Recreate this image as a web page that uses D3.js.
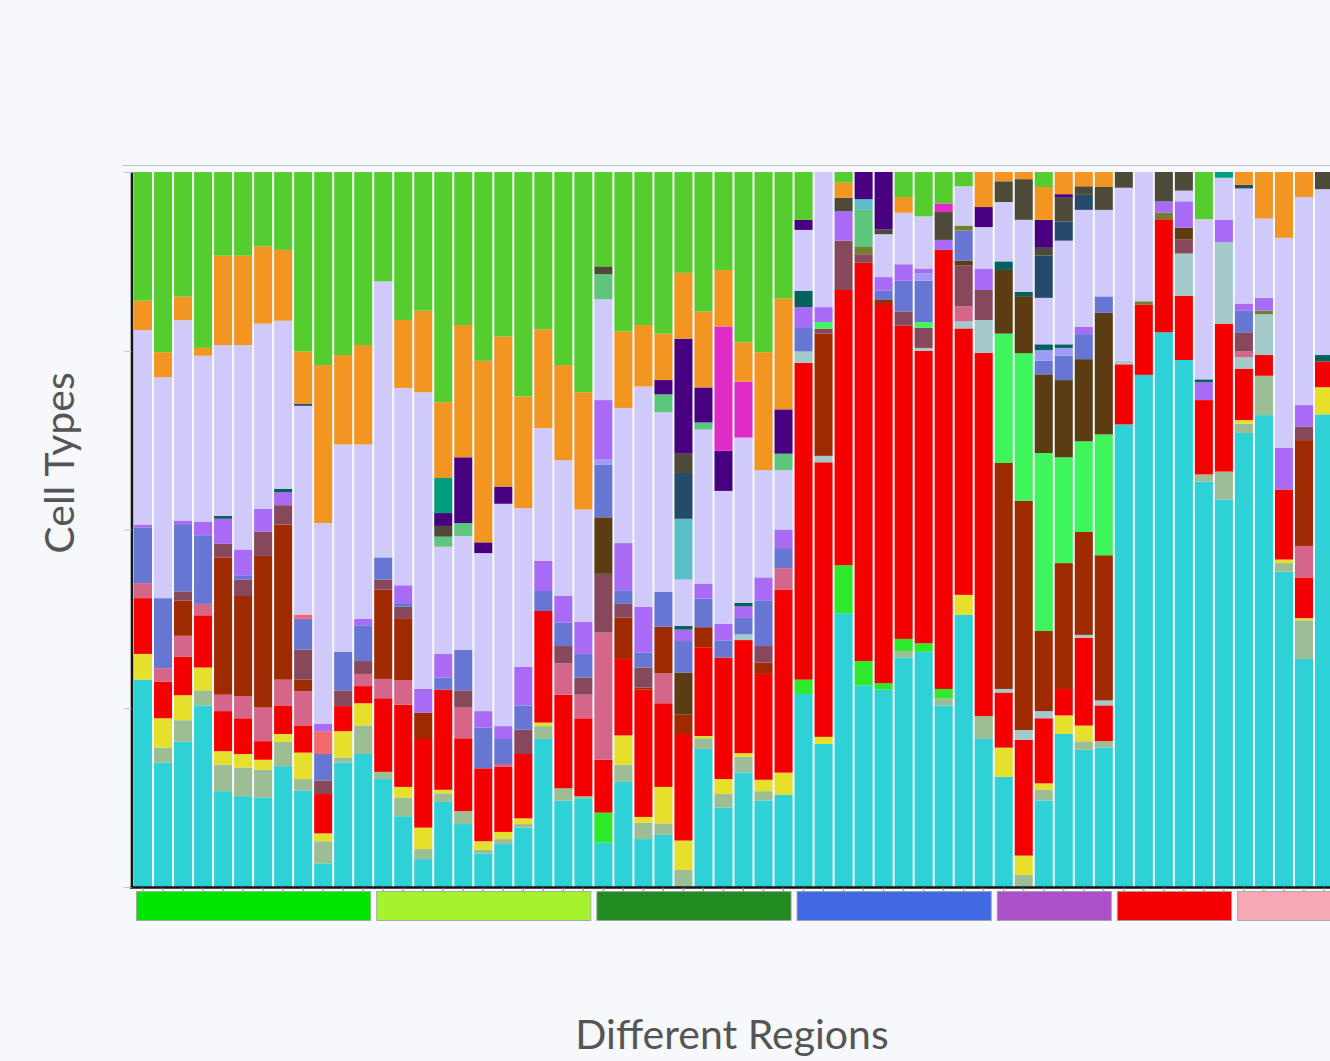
<!DOCTYPE html>
<html>
<head>
<meta charset="utf-8">
<script src="https://cdn.jsdelivr.net/npm/d3@7"></script>
<style>
  html, body { margin: 0; padding: 0; background: #f6f8fc; }
  svg { display: block; font-family: Lato, "Open Sans", sans-serif; }
</style>
</head>
<body>
<svg></svg>
<script>
// cell type proportions per region (%), one array per cell type, 60 regions
var cyan = [29.0,17.4,20.3,25.4,13.4,12.7,12.5,16.9,13.5,3.3,
  17.4,18.6,15.1,9.9,3.9,11.9,8.8,4.7,6.0,8.3,
  20.7,12.1,12.4,6.2,14.7,6.7,7.3,0,19.3,11.1,
  16.0,12.1,12.9,27.0,20.0,38.3,28.2,27.6,32.1,32.9,
  25.4,38.1,20.7,15.4,0,12.1,21.4,19.2,19.5,64.7,
  71.7,77.5,73.7,56.7,54.2,63.5,66.0,44.1,31.9,66.1];
var sage = [0,2.1,3.0,2.1,3.7,4.0,3.9,3.4,1.6,3.1,
  0.7,4.0,1.0,2.6,1.4,1.2,1.8,0.5,0.7,0.5,
  1.8,1.7,0.3,0,2.4,2.3,1.6,2.4,1.5,1.9,
  2.2,1.3,0,0,0,0,0,0,0.9,0,
  1.0,0,3.2,0,1.7,1.5,0,1.2,0.9,0,
  0,0,0,1.0,3.9,1.3,5.5,1.2,5.4,0];
var yellow = [3.6,4.1,3.5,3.2,1.9,1.9,1.4,1.1,3.7,1.1,
  3.7,3.1,0,1.5,3.0,0.5,0,1.2,1.0,0.8,
  0.5,0,0,0,4.1,0.8,5.1,4.1,0.3,2.1,
  0.5,1.6,3.1,0,1.0,0,0,0,0,0,
  0,2.8,0,4.1,2.7,0.9,2.6,2.2,0,0,
  0,0,0,0,0,0.5,0,0.5,0.3,3.8];
var lime = [0,0,0,0,0,0,0,0,0,0,
  0,0,0,0,0,0,0,0,0,0,
  0,0,0,4.2,0,0,0,0,0,0,
  0,0,0,2.0,0,6.7,3.4,0.9,1.7,1.2,
  1.3,0,0,0,0,0,0,0,0,0,
  0,0,0,0,0,0,0,0,0,0];
var red = [7.8,5.1,5.4,7.3,5.6,5.0,2.6,4.0,3.8,5.5,
  3.5,2.4,10.3,11.5,12.4,14.0,10.2,10.2,9.1,9.0,
  15.6,13.1,10.9,7.4,10.7,17.8,11.7,14.9,12.4,17.0,
  15.8,14.8,25.6,44.3,38.4,38.5,55.7,52.9,43.8,40.9,
  61.4,37.3,50.8,7.7,16.2,9.1,3.7,12.3,5.0,8.4,
  9.8,15.8,9.0,10.4,20.7,7.2,2.9,9.8,5.7,3.6];
var greyCyan = [0,0,0,0,0,0,0,0,0,0,
  0,0,0,0,0,0,0,0,0,0,
  0,0,0,0,0,0,0,0,0,0,
  0.8,0,0,1.6,0.9,0,0,0,0,0.4,
  0,1.0,4.6,0.5,1.4,1.0,0,0.4,0.7,0.5,
  0,0,5.9,0,11.4,1.6,5.7,0,0,0];
var pink = [2.1,1.9,2.9,1.6,2.3,3.1,4.7,3.6,4.8,0,
  0,1.7,2.7,3.4,0,0,4.3,0,0.4,0,
  0,4.4,3.3,17.8,0,0,4.2,0,0,0,
  0,0,3.0,0,0,0,0,0,0,0,
  0,2.1,0,0,0,0,0,0,0,0,
  0,0,0,0,0,0.8,0,0,4.4,0];
var brownRed = [0,0,4.9,0,19.2,14.0,21.2,21.7,1.6,0,
  0,0,12.5,8.7,3.7,0,0,0,0,0,
  0,0,0,0,5.8,0.3,6.5,2.7,2.8,0,
  0,1.6,0,0,17.1,0,0,0.7,0,0,
  0,0,0,31.6,32.1,11.2,17.6,14.4,20.3,0,
  0,0,0,0,0,0,0,0,14.8,0];
var maroon = [0,0,1.3,0,1.9,2.3,3.4,2.7,4.2,1.9,
  2.2,1.8,1.4,1.6,0,0,2.4,0,0,3.4,
  0,2.4,2.4,8.2,1.9,2.8,0,0,0,0,
  0,2.3,0,0,0.7,6.9,1.2,0,2.0,2.8,
  0,5.7,4.2,0,0,0,0,0,0,0,
  0,0,2.0,0,0,2.6,0,0,1.9,0];
var brightGreen = [0,0,0,0,0,0,0,0,0,0,
  0,0,0,0,0,0,0,0,0,0,
  0,0,0,0,0,0,0,0,0,0,
  0,0,0,0,0.9,0,0,0,0,0.8,
  0,0,0,18.1,20.7,24.9,14.8,12.7,16.9,0,
  0,0,0,0,0,0,0,0,0,0];
var darkBrown = [0,0,0,0,0,0,0,0,0,0,
  0,0,0,0,0,0,0,0,0,0,
  0,0,0,7.9,0,0,0,5.9,0,0,
  0,0,0,0,0,0,0,0,0,0,
  0,0.7,0,8.9,8.0,11.0,10.8,11.5,17.0,0,
  0,0,1.6,0,0,0,0,0,0,0];
var blue = [7.8,9.8,9.4,9.6,0,0.6,0,0,4.3,3.7,
  5.4,5.0,3.1,0.5,0,1.7,5.7,5.7,3.5,3.4,
  2.8,3.3,3.3,7.4,1.9,2.1,4.9,4.4,4.0,2.4,
  2.3,6.4,2.8,3.4,0,0,0,1.3,4.3,5.8,
  0,4.2,0,0,0,1.9,3.4,3.5,2.3,0,
  0,0,0,0,0,3.1,0,0,0,0];
var salmon = [0,0,0,0,0,0,0,0,0.6,3.2,
  0,0,0,0,0,0,0,0,0,0,
  0,0,0,0,0,0,0,0,0,0,
  0,0,0,0,0,0,0,0,0,0,
  0,0,0,0,0,0,0,0,0,0,
  0,0,0,0,0,0,0,0,0,0];
var olive = [0,0,0,0,0,0,0,0,0,0,
  0,0,0,0,0,0,0,0,0,0,
  0,0,0,0,0,0,0,0,0,0,
  0,0,0,0,0,0,1.1,0,0,0,
  0,0.7,0,0,0,0,0,0,0,0,
  0.5,0.9,0,0,0,0,0.5,0,0,0];
var periwinkle = [0,0,0,0,0,0,0,0,0,0,
  0,0,0,0,0,0,0,0,0,0,
  0,0,0,0.7,0,0,0,0,0,0,
  0,0,0,0,0,0,0,0,0,1.0,
  0,0,0,0,0,1.5,1.1,0,0,0,
  0,0,0,0,0,0,0,0,0,0];
var purple = [0.4,0,0.5,1.9,3.5,3.6,3.2,1.8,0,1.0,
  0,0.9,0,2.5,3.3,3.3,0,2.3,1.8,5.4,
  4.2,3.7,4.5,8.3,6.6,6.4,0,1.6,2.1,2.3,
  1.6,3.2,2.6,2.8,2.1,4.1,0,1.9,2.3,0.7,
  1.4,0,3.0,0,0,0,0,1.0,0,0,
  0,1.6,3.7,2.5,3.1,1.0,1.8,5.8,3.0,0];
var darkTeal = [0,0,0,0,0.4,0,0,0.5,0,0,
  0,0,0,0,0,0,0,0,0,0,
  0,0,0,0,0,0,0,0.5,0,0,
  0.5,0,0,2.3,0,0,0,0,0,0,
  0,0,0,1.2,0.6,0.8,0.5,0,0,0,
  0,0,0,0.4,0,0,0,0,0,0.9];
var lavender = [27.2,30.9,28.0,23.2,23.9,28.6,25.9,23.5,29.2,28.1,
  29.0,24.4,38.6,27.6,41.5,15.0,15.9,22.1,31.1,22.2,
  18.6,19.0,15.7,14.1,18.9,30.8,25.1,6.5,21.5,18.6,
  23.1,15.0,8.3,8.5,18.9,0,0,6.0,7.2,7.3,
  0,5.5,5.8,8.3,10.1,6.5,14.5,16.4,12.1,24.2,
  18.1,0,1.5,22.4,5.9,16.1,11.1,29.4,29.1,23.2];
var medGreen = [0,0,0,0,0,0,0,0,0,0,
  0,0,0,0,0,1.4,1.8,0,0,0,
  0,0,0,3.5,0,0,2.5,0,1.0,0,
  0,0,2.3,0,0,0,5.1,0,0,0,
  0,0,0,0,0,0,0,0,0,0,
  0,0,0,0,0,0,0,0,0,0];
var lightTeal = [0,0,0,0,0,0,0,0,0,0,
  0,0,0,0,0,0,0,0,0,0,
  0,0,0,0,0,0,0,8.5,0,0,
  0,0,0,0,0,0,1.5,0,0,0,
  0,0,0,0,0,0,0,0,0,0,
  0,0,0,0,0,0,0,0,0,0];
var navy = [0,0,0,0,0,0,0,0,0.3,0,
  0,0,0,0,0,0,0,0,0,0,
  0,0,0,0,0,0,0,6.4,0,0,
  0,0,0,0,0,0,0,0,0,0,
  0,0,0,0,0,5.9,2.7,2.1,0,0,
  0,0,0,0,0,0.5,0,0,0,0];
var darkOlive = [0,0,0,0,0,0,0,0,0,0,
  0,0,0,0,0,1.5,0,0,0,0,
  0,0,0,1.1,0,0,0,2.7,0,0,
  0,0,0,0,0,1.9,0,0.7,0,0,
  3.9,0,0,2.9,5.7,1.1,3.3,1.2,3.2,2.2,
  0,4.1,2.6,0,0,0,0,0,0,2.4];
var indigo = [0,0,0,0,0,0,0,0,0,0,
  0,0,0,0,0,1.8,9.2,1.5,2.4,0,
  0,0,0,0,0,0,2.0,16.1,4.9,5.6,
  0,0,6.2,1.4,0,0,3.8,8.0,0,0,
  0,0,2.8,0,0,3.9,0.5,0,0,0,
  0,0,0,0,0,0,0,0,0,0];
var magenta = [0,0,0,0,0,0,0,0,0,0,
  0,0,0,0,0,0,0,0,0,0,
  0,0,0,0,0,0,0,0,0,17.4,
  7.8,0,0,0,0,0,0,0,0,0,
  1.2,0,0,0,0,0,0,0,0,0,
  0,0,0,0,0,0,0,0,0,0];
var teal = [0,0,0,0,0,0,0,0,0,0,
  0,0,0,0,0,4.9,0,0,0,0,
  0,0,0,0,0,0,0,0,0,0,
  0,0,0,0,0,0,0,0,0,0,
  0,0,0,0,0,0,0,0,0,0,
  0,0,0,0,0.8,0,0,0,0,0];
var orange = [4.1,3.5,3.3,1.1,12.5,12.5,10.8,9.9,7.3,22.1,
  12.5,13.9,0,9.5,11.4,10.6,18.5,25.4,21.0,15.6,
  13.8,13.3,16.4,0,10.7,8.6,6.5,9.2,10.6,7.9,
  5.5,16.5,15.5,0,0,2.1,0,0,2.2,0,
  0,0,4.9,1.3,1.0,4.6,3.1,2.0,2.1,0,
  0,0,0,0,0,1.8,6.5,9.2,3.5,0];
var green = [18.0,25.2,17.4,24.6,11.7,11.7,10.4,10.9,25.1,27.0,
  25.6,24.2,15.3,20.7,19.4,32.2,21.4,26.4,23.0,31.4,
  22.0,27.0,30.8,13.2,22.3,21.4,22.6,14.1,19.5,13.7,
  23.8,25.2,17.7,6.7,0,1.5,0,0,3.5,6.2,
  4.4,2.0,0,0,0,2.1,0,0,0,0,
  0,0,0,6.6,0,0,0,0,0,0];

// stack order, bottom to top
var cellTypes = ["cyan","sage","yellow","lime","red","greyCyan","pink","brownRed","maroon",
  "brightGreen","darkBrown","blue","salmon","olive","periwinkle","purple","darkTeal","lavender",
  "medGreen","lightTeal","navy","darkOlive","indigo","magenta","teal","orange","green"];
var cellSeries = [cyan,sage,yellow,lime,red,greyCyan,pink,brownRed,maroon,
  brightGreen,darkBrown,blue,salmon,olive,periwinkle,purple,darkTeal,lavender,
  medGreen,lightTeal,navy,darkOlive,indigo,magenta,teal,orange,green];
var cellColors = ["#2ed1d6","#9dbe95","#e6e02c","#2eea2a","#f50000","#a3c9cb","#d6658a","#a02a00","#87485c",
  "#3ef55c","#5b3c13","#6676d2","#f26a6e","#72802e","#9f9cf7","#a96bf6","#00615f","#cfcafa",
  "#5ec57c","#5cbec8","#264a6a","#4d4a3a","#47007f","#e02bc7","#009e7c","#f29521","#55cd2e"];

// region groups shown in the colour strip under the bars
var groupSizes = [12, 11, 10, 10, 6, 6, 5];
var groupColors = ["#00e600","#a6f22f","#228b22","#4169e1","#ab50c8","#f50000","#f6a8b4"];

(function (d3) {
  'use strict';

  var width = 1330, height = 1061,
      left = 132, top = 172, bottom = 887,
      svg = d3.select("svg").attr("width", width).attr("height", height);

  var nRegions = cyan.length;
  var regions = d3.range(nRegions);

  var rows = regions.map(function (i) {
    var row = { region: i };
    cellTypes.forEach(function (t, k) { row[t] = cellSeries[k][i]; });
    return row;
  });

  var x = d3.scaleBand()
      .domain(regions)
      .range([left, left + 20.05 * 60])
      .paddingInner(0.1)
      .paddingOuter(0.1);

  var y = d3.scaleLinear()
      .domain([0, 1])
      .range([bottom, top]);

  var color = d3.scaleOrdinal().domain(cellTypes).range(cellColors);

  var series = d3.stack()
      .keys(cellTypes)
      .offset(d3.stackOffsetExpand)(rows);

  // frame line along the top
  svg.append("line")
      .attr("x1", 122).attr("x2", width)
      .attr("y1", 165.5).attr("y2", 165.5)
      .attr("stroke", "#bfc3c8").attr("stroke-width", 1);

  svg.append("g")
    .selectAll("g")
    .data(series)
    .enter().append("g")
      .attr("fill", function (d) { return color(d.key); })
    .selectAll("rect")
    .data(function (d) { return d.filter(function (s) { return s[1] - s[0] > 0; }); })
    .enter().append("rect")
      .attr("x", function (d) { return x(d.data.region); })
      .attr("width", x.bandwidth())
      .attr("y", function (d) { return y(d[1]); })
      .attr("height", function (d) { return y(d[0]) - y(d[1]); });

  // colour strip for region groups
  var groups = [], start = 0;
  groupSizes.forEach(function (n, g) {
    groups.push({ first: start, last: start + n - 1, color: groupColors[g] });
    start += n;
  });

  svg.append("g")
    .selectAll("rect")
    .data(groups)
    .enter().append("rect")
      .attr("x", function (d) { return x(d.first) + 2.5; })
      .attr("width", function (d) { return x(Math.min(d.last, nRegions - 1)) + x.bandwidth() - x(d.first) - 4; })
      .attr("y", 891.5)
      .attr("height", 29)
      .attr("fill", function (d) { return d.color; })
      .attr("stroke", "#a0a0a0")
      .attr("stroke-width", 0.8);

  // axes
  var xAxis = svg.append("g")
      .attr("transform", "translate(0," + (bottom + 0.5) + ")")
      .call(d3.axisBottom(x).tickSize(3.5).tickSizeOuter(0).tickFormat(""));
  xAxis.select(".domain").attr("stroke", "#151515").attr("stroke-width", 2.6)
      .attr("d", "M" + (left - 2) + ",0H" + width);
  xAxis.selectAll(".tick line").attr("stroke", "#8a8a8a");

  var yAxis = svg.append("g")
      .attr("transform", "translate(" + (left - 0.5) + ",0)")
      .call(d3.axisLeft(y).tickValues([0, 0.25, 0.5, 0.75, 1]).tickSize(8).tickSizeOuter(0).tickFormat(""));
  yAxis.select(".domain").attr("stroke", "#151515").attr("stroke-width", 2.6);
  yAxis.selectAll(".tick line").attr("stroke", "#b4c4e0");

  // titles
  svg.append("text")
      .attr("x", 732)
      .attr("y", 1049)
      .attr("text-anchor", "middle")
      .attr("font-size", "41px")
      .attr("fill", "#555")
      .text("Different Regions");

  svg.append("text")
      .attr("transform", "translate(74,463) rotate(-90)")
      .attr("text-anchor", "middle")
      .attr("font-size", "41px")
      .attr("fill", "#555")
      .text("Cell Types");

}(d3));
</script>
</body>
</html>
